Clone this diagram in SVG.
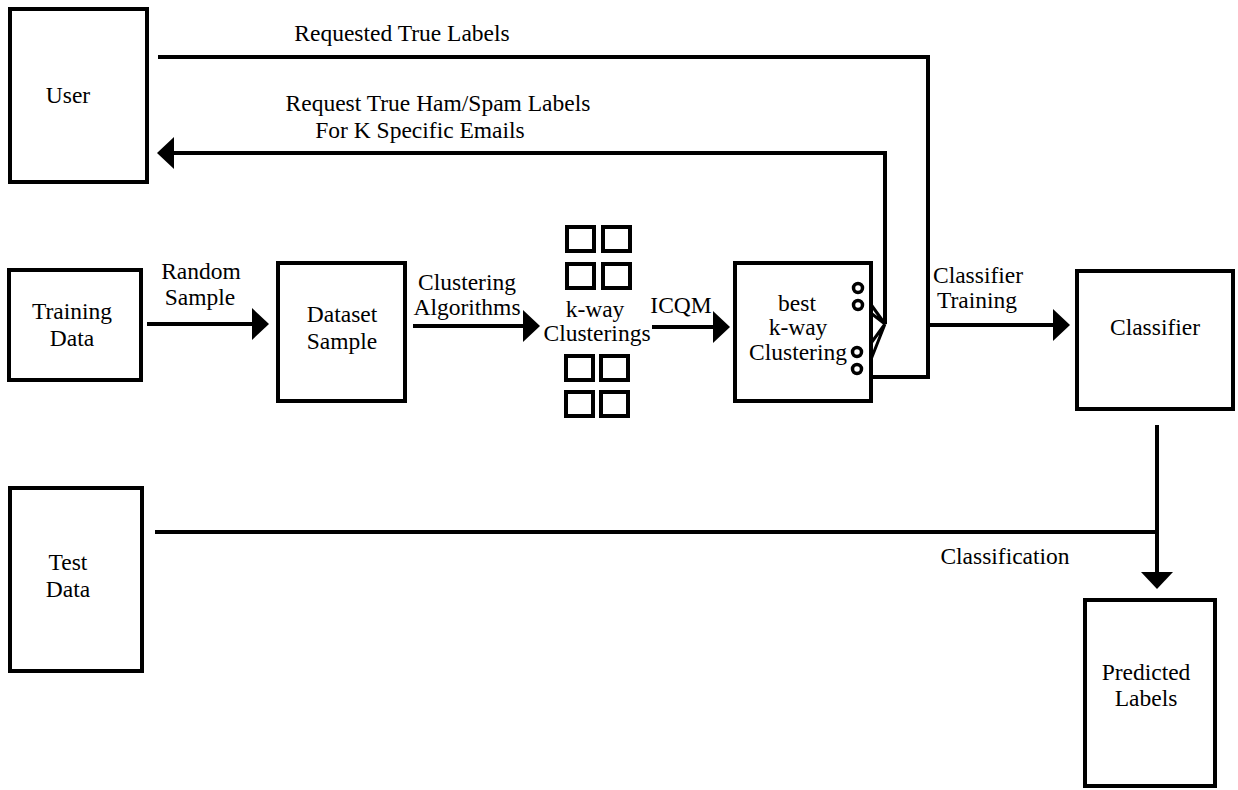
<svg xmlns="http://www.w3.org/2000/svg" width="1238" height="790" viewBox="0 0 1238 790">
<style>
.box{fill:#fff;stroke:#000;stroke-width:4}
.sq{fill:none;stroke:#000;stroke-width:4}
.ln{fill:none;stroke:#000;stroke-width:4}
.thin{fill:none;stroke:#000;stroke-width:3}
.cir{fill:#fff;stroke:#000;stroke-width:3.5}
text{font-family:"Liberation Serif","Times New Roman",serif;font-size:23.5px;fill:#000;text-anchor:middle}
</style>
<defs>
<marker id="ah" viewBox="0 -16 17 32" refX="0" refY="0" markerWidth="17" markerHeight="32" markerUnits="userSpaceOnUse" orient="auto">
<path d="M0,-16 L17,0 L0,16 Z" fill="#000"/>
</marker>
</defs>
<rect width="1238" height="790" fill="#fff"/>
<g id="connectors">
<path class="ln" d="M147,324 H252" marker-end="url(#ah)"/>
<path class="ln" d="M413,326 H523" marker-end="url(#ah)"/>
<path class="ln" d="M652,327 H713" marker-end="url(#ah)"/>
<path class="ln" d="M869,377 H928 V57 H158"/>
<path class="ln" d="M928,325 H1053" marker-end="url(#ah)"/>
<path class="ln" d="M885,324 V153 H174" marker-end="url(#ah)"/>
<path class="ln" d="M1157,425 V572" marker-end="url(#ah)"/>
<path class="ln" d="M155,532 H1157"/>
<path class="thin" d="M862,292 L885,324 M863,307 L885,324 M866,350 L885,324 M866,372 L885,324"/>
</g>
<g id="user">
<rect class="box" x="10" y="9" width="137" height="173"/>
<text x="68" y="103">User</text>
</g>
<g id="training-data">
<rect class="box" x="9" y="270" width="132" height="110"/>
<text x="72" y="319">Training</text>
<text x="72" y="346">Data</text>
</g>
<g id="dataset-sample">
<rect class="box" x="278" y="263" width="127" height="138"/>
<text x="342" y="322">Dataset</text>
<text x="342" y="349">Sample</text>
</g>
<g id="k-way-clusterings">
<rect class="sq" x="567" y="227" width="27" height="24"/>
<rect class="sq" x="603" y="227" width="27" height="24"/>
<rect class="sq" x="567" y="264" width="27" height="24"/>
<rect class="sq" x="603" y="264" width="27" height="24"/>
<rect class="sq" x="566" y="356" width="27" height="24"/>
<rect class="sq" x="601" y="356" width="27" height="24"/>
<rect class="sq" x="566" y="392" width="27" height="24"/>
<rect class="sq" x="601" y="392" width="27" height="24"/>
<text x="595" y="317">k-way</text>
<text x="597" y="341">Clusterings</text>
</g>
<g id="best-clustering">
<rect class="box" x="735" y="263" width="136" height="138"/>
<text x="797" y="311">best</text>
<text x="798" y="335">k-way</text>
<text x="798" y="360">Clustering</text>
<circle class="cir" cx="858" cy="288" r="4.5"/>
<circle class="cir" cx="858" cy="305" r="4.5"/>
<circle class="cir" cx="857" cy="352" r="4.5"/>
<circle class="cir" cx="857" cy="369" r="4.5"/>
</g>
<g id="classifier">
<rect class="box" x="1077" y="271" width="156" height="138"/>
<text x="1155" y="335">Classifier</text>
</g>
<g id="test-data">
<rect class="box" x="10" y="488" width="132" height="183"/>
<text x="68" y="570">Test</text>
<text x="68" y="597">Data</text>
</g>
<g id="predicted-labels">
<rect class="box" x="1085" y="600" width="130" height="186"/>
<text x="1146" y="680">Predicted</text>
<text x="1146" y="706">Labels</text>
</g>
<g id="labels">
<text x="402" y="41">Requested True Labels</text>
<text x="438" y="111">Request True Ham/Spam Labels</text>
<text x="420" y="138">For K Specific Emails</text>
<text x="201" y="279">Random</text>
<text x="200" y="305">Sample</text>
<text x="467" y="290">Clustering</text>
<text x="467" y="315">Algorithms</text>
<text x="681" y="313">ICQM</text>
<text x="978" y="283">Classifier</text>
<text x="977" y="308">Training</text>
<text x="1005" y="564">Classification</text>
</g>
</svg>
